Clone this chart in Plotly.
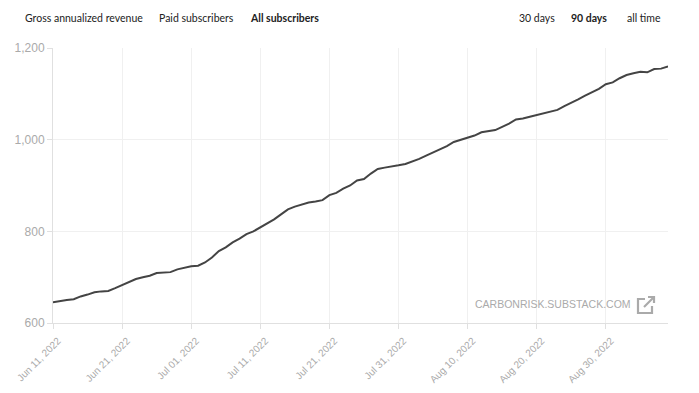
import plotly.graph_objects as go
import pandas as pd

# ---- data ----
start_date = "2022-06-11"
subscribers = [645, 648, 650, 652, 658, 662, 667, 669, 670, 676,
               683, 690, 696, 700, 703, 709, 710, 711, 717, 721,
               724, 725, 732, 743, 757, 765, 776, 784, 794, 800,
               809, 818, 826, 837, 848, 854, 859, 863, 865, 868,
               879, 884, 893, 900, 911, 914, 926, 936, 939, 941,
               944, 947, 952, 958, 965, 972, 980, 986, 995, 1000,
               1005, 1009, 1016, 1019, 1021, 1028, 1035, 1044, 1046, 1050,
               1054, 1058, 1061, 1065, 1073, 1080, 1088, 1096, 1104, 1111,
               1121, 1125, 1134, 1141, 1145, 1148, 1147, 1154, 1155, 1160]
dates = pd.date_range(start_date, periods=len(subscribers), freq="D")
y_ticks = [600, 800, 1000, 1200]
tabs_left = ["Gross annualized revenue", "Paid subscribers", "All subscribers"]
tabs_right = ["30 days", "90 days", "all time"]
watermark = "CARBONRISK.SUBSTACK.COM"

OFF = 8  # page body margin
W, H = 699 - OFF, 393 - OFF
L, R, T, B = 53 - OFF, 31, 48 - OFF, 70
PW, PH = W - L - R, H - T - B

def px(x):
    return (x - OFF - L) / PW

def py(y):
    return (H - B - (y - OFF)) / PH

fig = go.Figure()
fig.add_trace(go.Scatter(x=dates, y=subscribers, mode="lines",
                         line=dict(color="#444444", width=2), hoverinfo="skip"))

fig.update_layout(
    width=W, height=H, margin=dict(l=L, r=R, t=T, b=B, autoexpand=False),
    paper_bgcolor="white", plot_bgcolor="white", showlegend=False,
    font=dict(family="Liberation Sans, Arial", color="#999"),
)
fig.update_xaxes(
    range=[dates[0], dates[-1]], tick0=dates[0], dtick=10 * 86400000,
    tickformat="%b %d, %Y", tickangle=-45, tickfont=dict(size=10, color="#aaa"),
    ticklabeloverflow="allow", ticklabelshift=5, ticklabelstandoff=2,
    showgrid=True, gridcolor="#f0f0f0", gridwidth=1,
    showline=True, linecolor="#e0e0e0", linewidth=1, automargin=False,
    ticks="outside", ticklen=5, tickcolor="#e0e0e0", zeroline=False,
)
fig.update_yaxes(
    range=[600, 1200], tickvals=y_ticks, tickformat=",",
    tickfont=dict(size=12, color="#aaa"), ticklabeloverflow="allow",
    showgrid=True, gridcolor="#f0f0f0", gridwidth=1,
    showline=True, linecolor="#e0e0e0", linewidth=1, automargin=False,
    ticks="outside", ticklen=5, tickcolor="#e0e0e0", zeroline=False,
)

hdr_font = "Lato, Roboto"
left_x = [23, 157, 248]
for txt, x0, bold in zip(tabs_left, left_x, [False, False, True]):
    fig.add_annotation(x=px(x0), y=py(18), xref="paper", yref="paper",
                       text=f"<b>{txt}</b>" if bold else txt, showarrow=False,
                       xanchor="left", yanchor="middle",
                       font=dict(family=hdr_font, size=10.5, color="#222"))
right_x = [517, 569, 625]
for txt, x0, bold in zip(tabs_right, right_x, [False, True, False]):
    fig.add_annotation(x=px(x0), y=py(18), xref="paper", yref="paper",
                       text=f"<b>{txt}</b>" if bold else txt, showarrow=False,
                       xanchor="left", yanchor="middle",
                       font=dict(family=hdr_font, size=10.5, color="#222"))

fig.add_annotation(x=px(633), y=py(304), xref="paper", yref="paper",
                   text=watermark, showarrow=False, xanchor="right", yanchor="middle",
                   font=dict(family="Liberation Sans, Arial", size=10.5, color="#aaa"))

# external link icon
def P(x, y):
    return f"{px(x):.5f},{py(y):.5f}"
icon = (f"M {P(645,299)} L {P(638,299)} L {P(638,313)} L {P(652,313)} L {P(652,306)}")
fig.add_shape(type="path", path=icon, xref="paper", yref="paper",
              line=dict(color="#aaa", width=2.2))
fig.add_shape(type="path", path=f"M {P(644,307)} L {P(654,297)}", xref="paper", yref="paper",
              line=dict(color="#aaa", width=2.2))
fig.add_shape(type="path", path=f"M {P(648,297)} L {P(654,297)} L {P(654,303)}",
              xref="paper", yref="paper", line=dict(color="#aaa", width=2.2))

fig.write_html("out.html")
